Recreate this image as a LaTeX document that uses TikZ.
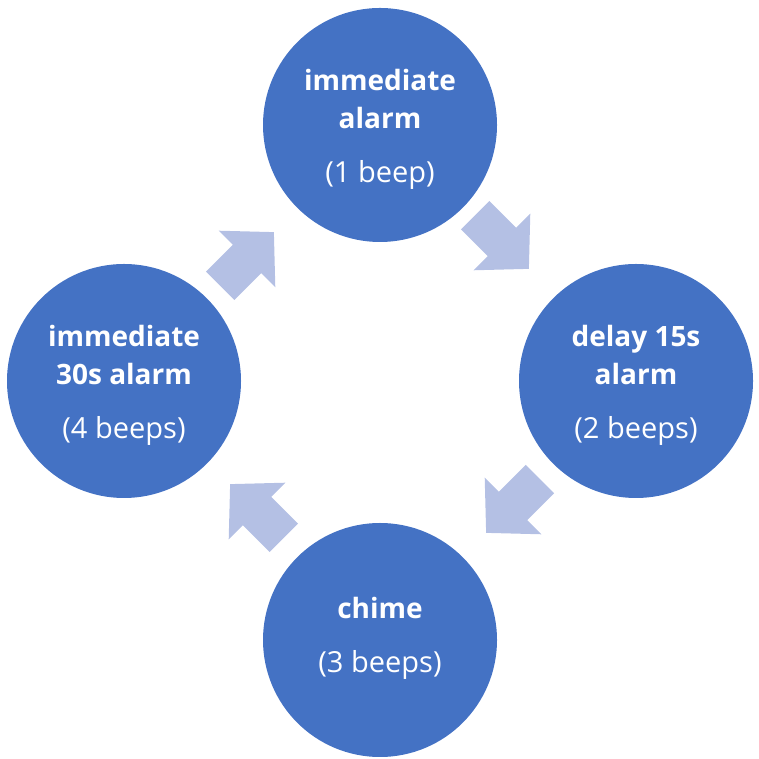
\documentclass[tikz,border=0pt]{standalone}
\usepackage{fontspec}
\setmainfont{Open Sans}
\definecolor{cfill}{HTML}{4472C4}
\definecolor{afill}{HTML}{B4C0E4}
\begin{document}
\begin{tikzpicture}[x=1pt,y=1pt,
  st/.style={circle,fill=cfill,minimum size=234pt,inner sep=0pt},
  tx/.style={text=white,align=center,font=\fontsize{28}{38}\selectfont},
  sub/.style={font=\fontsize{29}{38}\selectfont}]
\useasboundingbox (0,0) rectangle (759,759);
\node[st] (a) at (380,634) {};
\node[st] (b) at (636,378) {};
\node[st] (c) at (380,119) {};
\node[st] (d) at (124,378) {};
\node[tx] (at) at (380,630) {\textbf{immediate}\\\textbf{alarm}\\[16pt]\fontsize{29}{38}\selectfont(1 beep)};
\node[tx] (bt) at (636,374) {\textbf{delay 15s}\\\textbf{alarm}\\[16pt]\fontsize{29}{38}\selectfont(2 beeps)};
\node[tx] (ct) at (380,121) {\textbf{chime}\\[16pt]\fontsize{29}{38}\selectfont(3 beeps)};
\node[tx] (dt) at (124,374) {\textbf{immediate}\\\textbf{30s alarm}\\[16pt]\fontsize{29}{38}\selectfont(4 beeps)};
\foreach \px/\py/\ang in {247/500/45, 502/517/-45, 513/253/-135, 257/248/135}{
  \fill[afill,shift={(\px,\py)},rotate=\ang] (-38,-20) -- (0,-20) -- (0,-40) -- (38,0) -- (0,40) -- (0,20) -- (-38,20) -- cycle;
}
\end{tikzpicture}
\end{document}
